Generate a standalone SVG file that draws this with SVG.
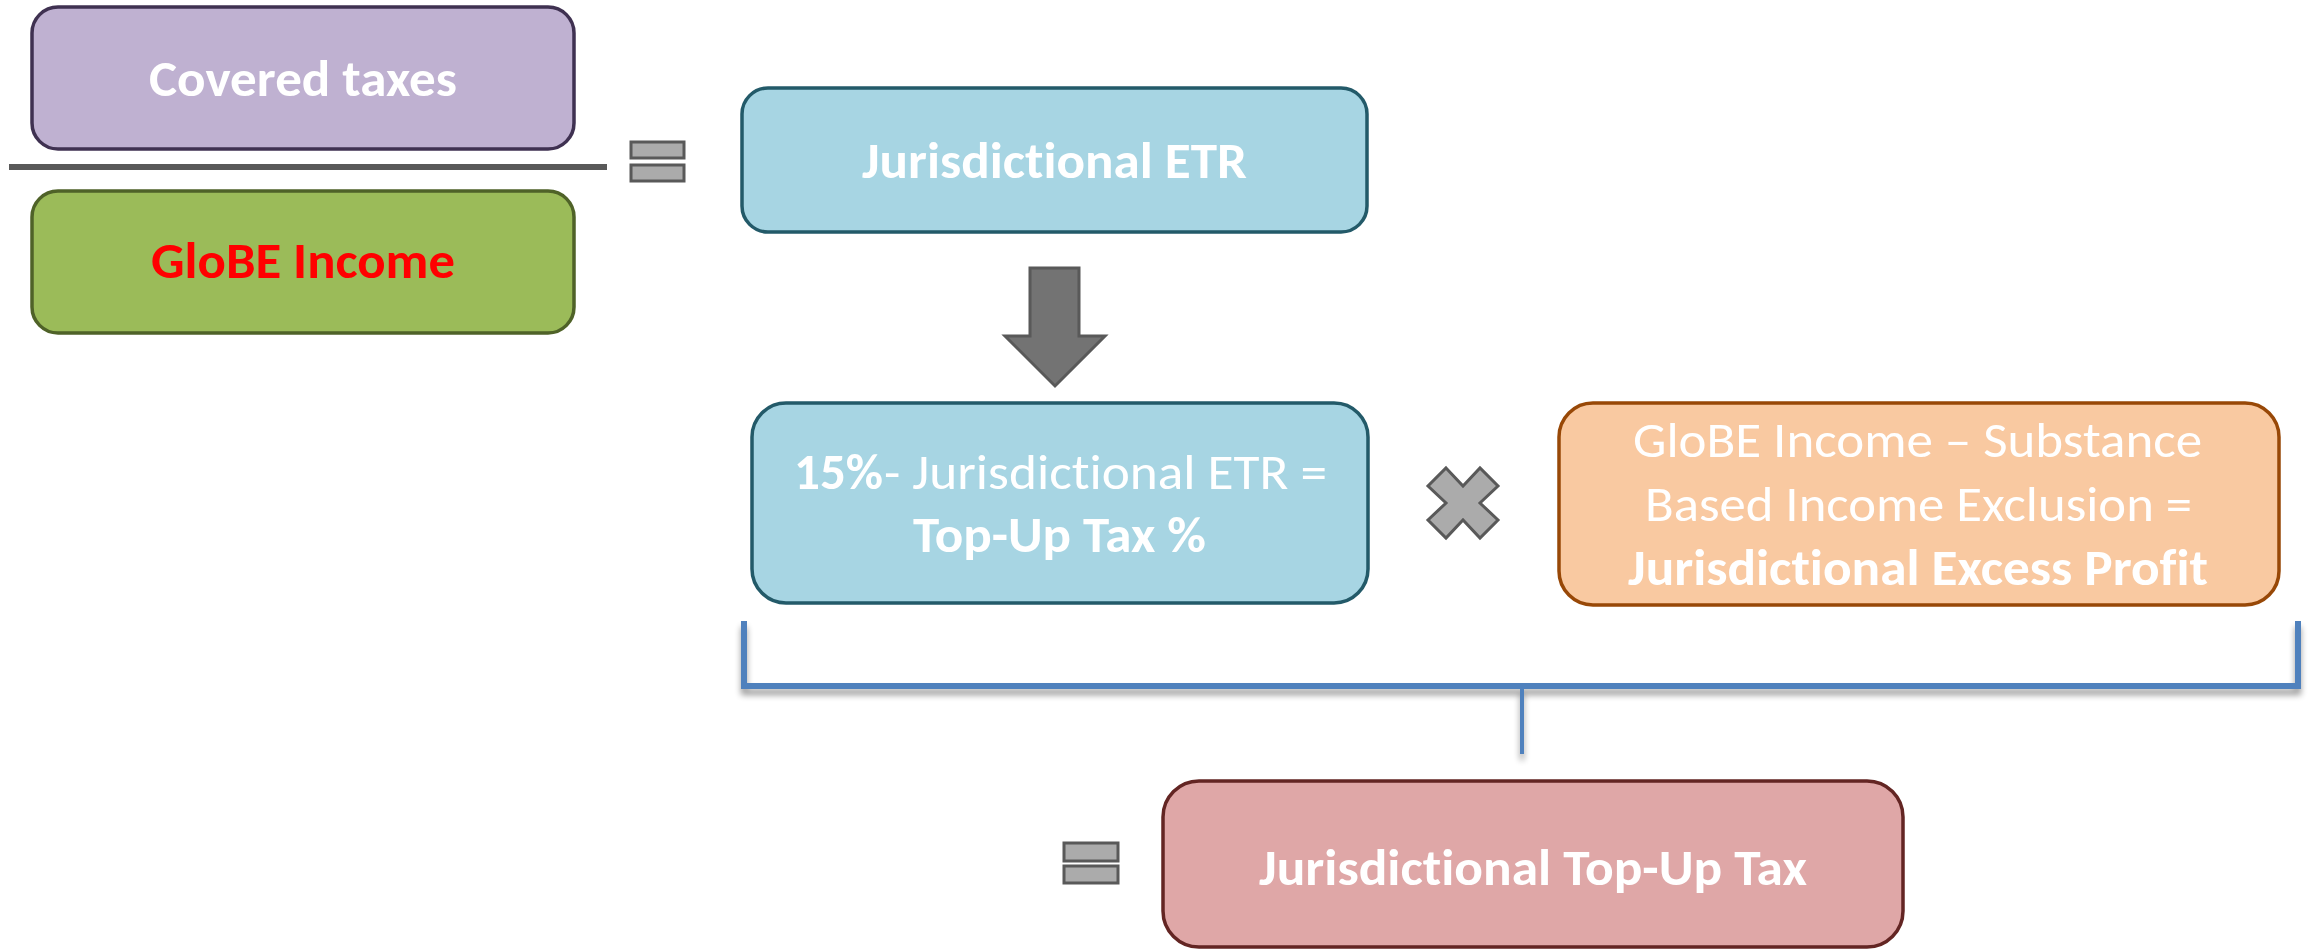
<svg xmlns="http://www.w3.org/2000/svg" width="2315" height="950" viewBox="0 0 2315 950">
<defs>
<style>
.t{font-family:Carlito,Lato,"Liberation Sans",sans-serif;font-size:50px;fill:#ffffff;font-variant-ligatures:none;font-feature-settings:"liga" 0,"dlig" 0}
.b{font-weight:bold}
.r{font-weight:normal}
.op{fill:#ababab;stroke:#595959;stroke-width:3}
.box{stroke-width:3.5}
</style>
<filter id="sh" x="-5%" y="-50%" width="110%" height="200%">
<feGaussianBlur in="SourceAlpha" stdDeviation="3"/>
<feOffset dx="0" dy="6"/>
<feComponentTransfer><feFuncA type="linear" slope="0.4"/></feComponentTransfer>
<feMerge><feMergeNode/><feMergeNode in="SourceGraphic"/></feMerge>
</filter>
</defs>
<rect width="2315" height="950" fill="#ffffff"/>

<g id="covered-taxes">
<rect class="box" x="32" y="7" width="542" height="142" rx="26" fill="#bfb1d1" stroke="#3f3151"/>
<text class="t b" x="149" y="96" textLength="308" lengthAdjust="spacingAndGlyphs">Covered taxes</text>
</g>
<g id="fraction-line">
<line x1="9" y1="167" x2="607" y2="167" stroke="#595959" stroke-width="6"/>
</g>
<g id="globe-income">
<rect class="box" x="32" y="191" width="542" height="142" rx="26" fill="#9bbb59" stroke="#4f6228"/>
<text class="t b" x="151" y="278" textLength="304" lengthAdjust="spacingAndGlyphs" style="fill:#ff0000">GloBE Income</text>
</g>
<g id="equals-1">
<rect class="op" x="631" y="142" width="53" height="16"/>
<rect class="op" x="631" y="165" width="53" height="16"/>
</g>

<g id="jurisdictional-etr">
<rect class="box" x="742" y="88" width="625" height="144" rx="26" fill="#a7d5e3" stroke="#235a69"/>
<text class="t b" x="862" y="178" textLength="385" lengthAdjust="spacingAndGlyphs">Jurisdictional ETR</text>
</g>

<g id="top-up-pct">
<rect class="box" x="752" y="403" width="616" height="200" rx="34" fill="#a7d5e3" stroke="#235a69"/>
<text class="t b" x="794" y="489" textLength="89" lengthAdjust="spacingAndGlyphs">15%</text>
<text class="t r" x="884" y="489" textLength="443" lengthAdjust="spacingAndGlyphs">- Jurisdictional ETR =</text>
<text class="t b" x="913" y="552" textLength="293" lengthAdjust="spacingAndGlyphs">Top-Up Tax %</text>
</g>

<g id="times">
<polygon class="op" points="1446,468 1463,486 1480,468 1498,486 1480,503 1498,520 1480,538 1463,520 1446,538 1428,520 1446,503 1428,486"/>
</g>

<g id="excess-profit">
<rect class="box" x="1559" y="403" width="720" height="202" rx="34" fill="#f9c9a1" stroke="#984807"/>
<text class="t r" x="1633" y="457" textLength="569" lengthAdjust="spacingAndGlyphs">GloBE Income – Substance</text>
<text class="t r" x="1645" y="521" textLength="547" lengthAdjust="spacingAndGlyphs">Based Income Exclusion =</text>
<text class="t b" x="1628" y="585" textLength="580" lengthAdjust="spacingAndGlyphs">Jurisdictional Excess Profit</text>
</g>

<g id="connectors">
<polygon points="1030,268 1079,268 1079,336 1105,336 1055,386 1005,336 1030,336" fill="#737373" stroke="#595959" stroke-width="3"/>
<g filter="url(#sh)" fill="none" stroke="#4f81bd">
<path d="M744,621 V686 H2298 V621" stroke-width="6"/>
<path d="M1522,686 V754" stroke-width="4"/>
</g>
</g>

<g id="equals-2">
<rect class="op" x="1064" y="843" width="54" height="18"/>
<rect class="op" x="1064" y="866" width="54" height="17"/>
</g>

<g id="jurisdictional-top-up-tax">
<rect class="box" x="1163" y="781" width="740" height="166" rx="36" fill="#dfa7a7" stroke="#632523"/>
<text class="t b" x="1259" y="885" textLength="548" lengthAdjust="spacingAndGlyphs">Jurisdictional Top-Up Tax</text>
</g>
</svg>
